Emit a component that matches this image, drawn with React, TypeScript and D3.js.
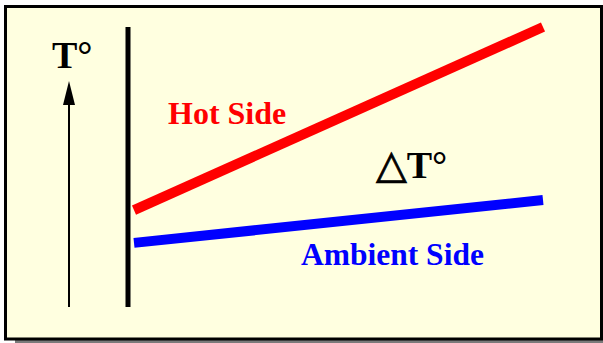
import React from "react";
import * as d3 from "d3";

const positions = ["start", "end"];
const hotSide = [34.6, 100];
const ambientSide = [22.9, 38.2];
const labels = ["Hot Side", "Ambient Side", "T°", "△", "T°"];

const W = 603;
const H = 343;

export default function App() {
  const x = d3.scalePoint<string>().domain(positions).range([134, 543]);
  const y = d3.scaleLinear().domain([0, 100]).range([307, 27]);
  const line = d3
    .line<number>()
    .x((_, i) => x(positions[i]) as number)
    .y((d) => y(d));

  const font = "'Liberation Serif', 'Times New Roman', serif";

  return (
    <svg
      width={W}
      height={H}
      style={{ position: "absolute", left: 0, top: 0 }}
      xmlns="http://www.w3.org/2000/svg"
    >
      <rect x={0} y={0} width={W} height={H} fill="#ffffff" />
      <rect x={15} y={340} width={588} height={3} fill="#7a7a7a" />
      <rect
        x={5.5}
        y={6.5}
        width={596}
        height={332.5}
        fill="#ffffe0"
        stroke="#000"
        strokeWidth={3}
      />
      <line x1={128} x2={128} y1={y(100)} y2={y(0)} stroke="#000" strokeWidth={5} />
      <line x1={69} x2={69} y1={100} y2={y(0)} stroke="#000" strokeWidth={2} />
      <path d="M69,81 L63,105 L75,105 Z" fill="#000" />
      <path d={line(hotSide) || ""} stroke="#ff0000" strokeWidth={10} fill="none" />
      <path d={line(ambientSide) || ""} stroke="#0000ff" strokeWidth={10} fill="none" />
      <text x={52} y={68} fontFamily={font} fontWeight="bold" fontSize={38} fill="#000">
        {labels[2]}
      </text>
      <text x={168} y={124} fontFamily={font} fontWeight="bold" fontSize={32} fill="#ff0000">
        {labels[0]}
      </text>
      <text x={301} y={265} fontFamily={font} fontWeight="bold" fontSize={31.5} fill="#0000ff">
        {labels[1]}
      </text>
      <text x={376} y={178} fill="#000">
        <tspan
          fontFamily="'DejaVu Sans', sans-serif"
          fontSize={40}
          stroke="#000"
          strokeWidth={0.8}
        >
          {labels[3]}
        </tspan>
        <tspan fontFamily={font} fontWeight="bold" fontSize={38} dx={0}>
          {labels[4]}
        </tspan>
      </text>
    </svg>
  );
}
